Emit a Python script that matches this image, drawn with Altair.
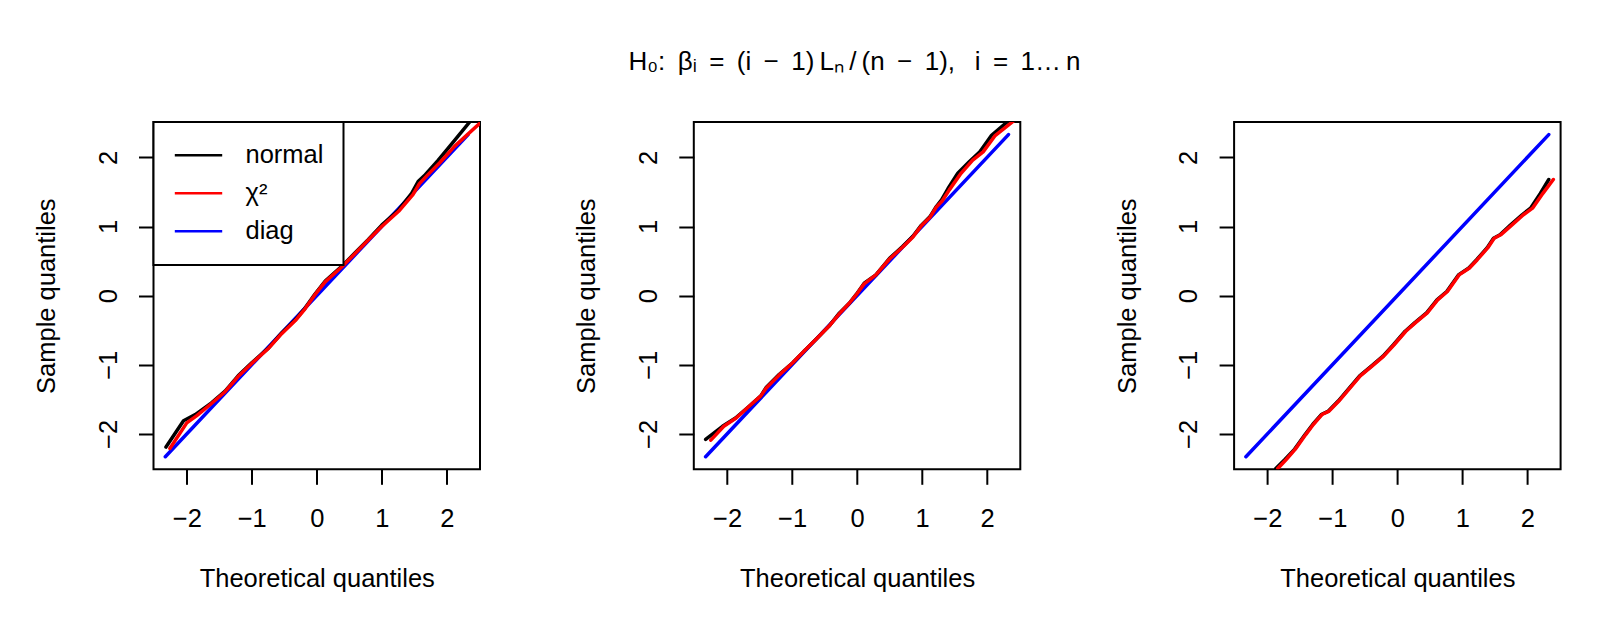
import altair as alt
import pandas as pd

FONT = "Liberation Sans, Arial, Helvetica, sans-serif"
FS = 25.5

series_names = ["normal", "χ²", "diag"]
series_colors = ["black", "red", "blue"]
x_ticks = [-2, -1, 0, 1, 2]
y_ticks = [-2, -1, 0, 1, 2]
axis_lim = [-2.512, 2.512]

diag_x = [-2.33, 2.33]
diag_y = [-2.33, 2.33]

# panel 1
p1_norm_x = [-2.32, -2.05, -1.87, -1.62, -1.41, -1.21, -1.00, -0.74, -0.54, -0.33, -0.18, -0.03,
             0.13, 0.38, 0.59, 0.79, 1.00, 1.26, 1.46, 1.56, 1.67, 1.87, 2.08, 2.36]
p1_norm_y = [-2.19, -1.81, -1.72, -1.55, -1.38, -1.16, -0.97, -0.755, -0.54, -0.35, -0.18, 0.02,
             0.21, 0.42, 0.62, 0.81, 1.02, 1.24, 1.48, 1.65, 1.75, 1.96, 2.20, 2.52]
p1_chi_x = [-2.26, -2.00, -1.85, -1.62, -1.41, -1.21, -1.00, -0.74, -0.54, -0.33, -0.18, -0.03,
            0.13, 0.38, 0.59, 0.79, 1.00, 1.26, 1.48, 1.58, 1.70, 1.90, 2.12, 2.54]
p1_chi_y = [-2.21, -1.84, -1.74, -1.56, -1.39, -1.17, -0.98, -0.76, -0.55, -0.36, -0.19, 0.01,
            0.20, 0.41, 0.61, 0.80, 1.00, 1.22, 1.46, 1.62, 1.74, 1.93, 2.16, 2.52]

# panel 2
p2_norm_x = [-2.33, -2.07, -1.87, -1.66, -1.48, -1.40, -1.20, -0.99, -0.79, -0.63, -0.43, -0.27,
             -0.12, -0.015, 0.11, 0.29, 0.50, 0.70, 0.86, 0.99, 1.12, 1.22, 1.30, 1.40, 1.55,
             1.73, 1.89, 2.07, 2.32]
p2_norm_y = [-2.08, -1.89, -1.77, -1.60, -1.45, -1.33, -1.14, -0.97, -0.78, -0.63, -0.44, -0.25,
             -0.11, 0.014, 0.18, 0.30, 0.54, 0.71, 0.86, 1.02, 1.14, 1.29, 1.385, 1.55, 1.77,
             1.94, 2.08, 2.32, 2.52]
p2_chi_x = [-2.25, -2.05, -1.86, -1.66, -1.48, -1.40, -1.20, -0.99, -0.79, -0.63, -0.43, -0.27,
            -0.12, -0.015, 0.11, 0.29, 0.50, 0.70, 0.86, 0.99, 1.12, 1.22, 1.31, 1.42, 1.60,
            1.78, 1.94, 2.12, 2.40]
p2_chi_y = [-2.09, -1.89, -1.77, -1.60, -1.45, -1.34, -1.15, -0.97, -0.78, -0.63, -0.44, -0.26,
            -0.11, 0.01, 0.17, 0.30, 0.53, 0.70, 0.85, 1.01, 1.13, 1.28, 1.37, 1.53, 1.77,
            1.96, 2.08, 2.31, 2.52]

# panel 3
p3_norm_x = [-1.87, -1.73, -1.58, -1.42, -1.30, -1.17, -1.06, -0.91, -0.76, -0.58, -0.40, -0.22,
             -0.06, 0.12, 0.27, 0.45, 0.61, 0.76, 0.94, 1.10, 1.22, 1.38, 1.48, 1.58, 1.74,
             1.92, 2.05, 2.20, 2.33]
p3_norm_y = [-2.50, -2.37, -2.22, -2.01, -1.86, -1.72, -1.67, -1.525, -1.36, -1.16, -1.02, -0.875,
             -0.71, -0.515, -0.39, -0.25, -0.06, 0.06, 0.30, 0.40, 0.52, 0.69, 0.83, 0.88, 1.02,
             1.17, 1.265, 1.48, 1.68]
p3_chi_x = [-1.84, -1.71, -1.57, -1.41, -1.29, -1.16, -1.05, -0.90, -0.75, -0.57, -0.39, -0.21,
            -0.05, 0.13, 0.28, 0.46, 0.62, 0.77, 0.95, 1.11, 1.23, 1.39, 1.49, 1.59, 1.76,
            1.94, 2.08, 2.24, 2.40]
p3_chi_y = [-2.50, -2.37, -2.22, -2.01, -1.86, -1.72, -1.67, -1.525, -1.36, -1.16, -1.02, -0.875,
            -0.71, -0.515, -0.39, -0.25, -0.06, 0.06, 0.30, 0.40, 0.52, 0.69, 0.83, 0.88, 1.02,
            1.17, 1.265, 1.48, 1.68]

NB = "\u00a0"
TH = "\u2009"
title_text = ("H₀:" + NB + TH + "βᵢ" + NB + TH + "=" + NB + TH + "(i" + NB + TH + "−" + NB + TH
              + "1)" + TH + "Lₙ" + TH + "/" + TH + "(n" + NB + TH + "−" + NB + TH + "1),"
              + NB + NB + TH + "i" + NB + TH + "=" + NB + TH + "1…" + TH + "n")

W, H = 326.5, 347.3


def make_df(nx, ny, cx, cy):
    rows = []
    for x, y in zip(diag_x, diag_y):
        rows.append({"series": "diag", "x": x, "y": y})
    for x, y in zip(nx, ny):
        rows.append({"series": "normal", "x": x, "y": y})
    for x, y in zip(cx, cy):
        rows.append({"series": "χ²", "x": x, "y": y})
    return pd.DataFrame(rows)


def panel(nx, ny, cx, cy, show_legend):
    df = make_df(nx, ny, cx, cy)
    if show_legend:
        legend = alt.Legend(
            orient="top-left", offset=0, title=None, symbolType="stroke",
            symbolSize=47.4 ** 2, symbolStrokeWidth=2.5, labelFontSize=FS, labelFont=FONT,
            labelColor="black", labelOffset=22, padding=20, rowPadding=11, clipHeight=26.5,
            strokeColor="black", fillColor="white", labelLimit=300,
        )
    else:
        legend = None
    xs = alt.Scale(domain=axis_lim, nice=False, zero=False)
    ys = alt.Scale(domain=axis_lim, nice=False, zero=False)
    xaxis = alt.Axis(
        title="Theoretical quantiles", values=x_ticks, format="d", grid=False, domain=False,
        tickSize=15, tickWidth=2, tickColor="black", labelFontSize=FS, labelFont=FONT,
        labelColor="black", labelBaseline="alphabetic", labelAlign="center", labelPadding=42,
        labelFlush=False, titleFontSize=FS, titleFont=FONT, titleFontWeight="normal",
        titleColor="black", titleBaseline="alphabetic", titleY=117,
    )
    yaxis = alt.Axis(
        title="Sample quantiles", values=y_ticks, format="d", grid=False, domain=False,
        tickSize=15, tickWidth=2, tickColor="black", labelFontSize=FS, labelFont=FONT,
        labelColor="black", labelAngle=270, labelBaseline="alphabetic", labelAlign="center",
        labelPadding=22.3, labelFlush=False, titleFontSize=FS, titleFont=FONT,
        titleFontWeight="normal", titleColor="black", titleBaseline="alphabetic",
        titleAngle=270, titleX=-99,
    )
    color = alt.Color(
        "series:N",
        scale=alt.Scale(domain=series_names, range=series_colors),
        legend=legend,
    )
    layers = []
    for s in ["diag", "normal", "χ²"]:
        layers.append(
            alt.Chart(df)
            .transform_filter(alt.datum.series == s)
            .mark_line(strokeWidth=3.5, clip=True, strokeCap="round", strokeJoin="round")
            .encode(
                x=alt.X("x:Q", scale=xs, axis=xaxis),
                y=alt.Y("y:Q", scale=ys, axis=yaxis),
                color=color,
            )
        )
    return alt.layer(*layers).properties(width=W, height=H)


p1 = panel(p1_norm_x, p1_norm_y, p1_chi_x, p1_chi_y, True)
p2 = panel(p2_norm_x, p2_norm_y, p2_chi_x, p2_chi_y, False)
p3 = panel(p3_norm_x, p3_norm_y, p3_chi_x, p3_chi_y, False)

chart = (
    alt.hconcat(p1, p2, p3, spacing=213.3, bounds="flush")
    .resolve_scale(color="independent")
    .resolve_legend(color="independent")
    .properties(
        title=alt.TitleParams(
            text=title_text, fontSize=26, font=FONT, fontWeight="normal", color="black",
            anchor="middle", baseline="alphabetic", offset=24, frame="bounds", dx=57,
        ),
        padding={"left": 24.5, "top": 41, "right": 40, "bottom": 20},
        background="white",
    )
    .configure_view(stroke="black", strokeWidth=2)
    .configure_legend(strokeWidth=2)
)

chart.save("out.html", embed_options={"renderer": "svg", "actions": False})
